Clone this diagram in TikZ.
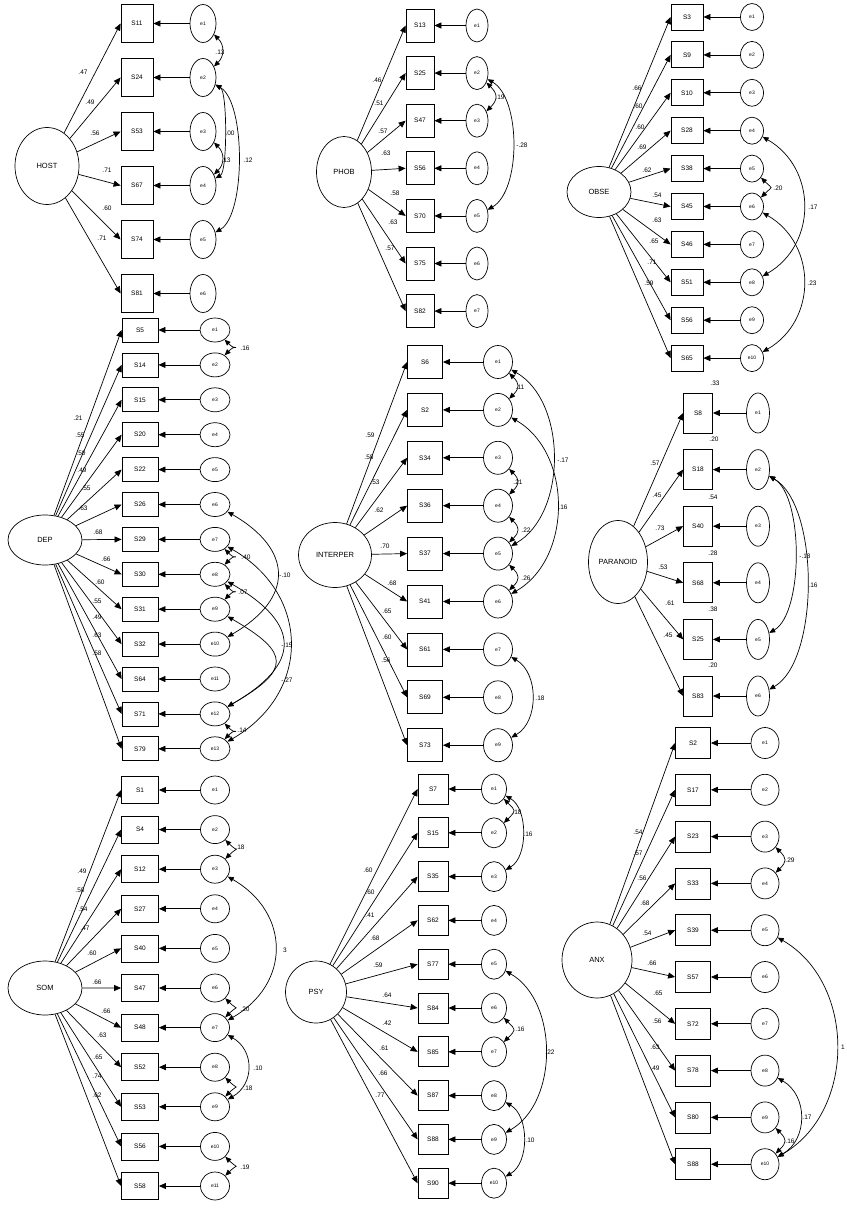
\documentclass[tikz,border=0pt]{standalone}
\usepackage{fontspec}
\setmainfont{Liberation Sans}
\usetikzlibrary{arrows.meta,shapes.geometric}
\tikzset{
  ind/.style={draw,rectangle,inner sep=0pt,line width=0.8pt,font=\fontsize{6.5}{7}\selectfont},
  err/.style={draw,ellipse,inner sep=0pt,line width=0.7pt,font=\fontsize{5}{6}\selectfont},
  lat/.style={draw,ellipse,inner sep=0pt,line width=0.7pt,font=\fontsize{7.5}{8}\selectfont},
  lbl/.style={inner sep=0pt,font=\fontsize{6.5}{7}\selectfont},
  arr/.style={-{Triangle[length=7pt,width=6pt]},line width=0.7pt},
  cov/.style={{Triangle[length=6pt,width=5pt]}-{Triangle[length=6pt,width=5pt]},line width=0.7pt}
}
\begin{document}
\begin{tikzpicture}[x=1pt,y=-1pt]
\useasboundingbox[fill=white] (0,0) rectangle (846,1209);

% HOST
\node[lat,minimum width=64pt,minimum height=77pt] (host) at (47,166) {HOST};
\foreach \s [count=\i] in {S11,S24,S53,S67,S74,S81} {
  \node[ind,minimum width=32pt,minimum height=38pt] (hostS\i) at (137,{23.5+54*(\i-1)}) {\s};
  \node[err,minimum width=26pt,minimum height=38pt] (hostE\i) at (203,{23.5+54*(\i-1)}) {e\i};
  \draw[arr] (host) -- (hostS\i.west);
  \draw[arr] (hostE\i) -- (hostS\i);
}
\foreach \v/\x/\y [count=\k] in {.47/83/72,.49/90/102,.56/95/133,.71/107/170,.60/107/208,.71/102/238}
  \node[lbl] (hostL\k) at (\x,\y) {\v};
\foreach \p/\q/\ang/\lp/\v/\x/\y [count=\k] in {1/2/45/1.2/.13/220/52,2/4/30/0.38/.00/230/133,3/4/45/1.2/.13/226/160,2/5/30/0.61/.12/248/160} {
  \draw[cov] (hostE\p) to[out=-\ang,in=\ang,looseness=\lp] (hostE\q);
  \node[lbl] (hostC\k) at (\x,\y) {\v};
}

% PHOB
\node[lat,minimum width=55pt,minimum height=71pt] (phob) at (344,172) {PHOB};
\foreach \s [count=\i] in {S13,S25,S47,S56,S70,S75,S82} {
  \node[ind,minimum width=28pt,minimum height=33pt] (phobS\i) at (420,{25.5+47.6*(\i-1)}) {\s};
  \node[err,minimum width=22pt,minimum height=33pt] (phobE\i) at (477,{25.5+47.6*(\i-1)}) {e\i};
  \draw[arr] (phob) -- (phobS\i.west);
  \draw[arr] (phobE\i) -- (phobS\i);
}
\foreach \v/\x/\y [count=\k] in {.46/377/80,.51/379/103,.57/383/131,.63/386/153,.58/395/193,.63/393/222,.57/390/248}
  \node[lbl] (phobL\k) at (\x,\y) {\v};
\foreach \p/\q/\ang/\lp/\v/\x/\y [count=\k] in {2/3/45/1.45/.19/500/97,2/5/30/0.76/-.28/522/145} {
  \draw[cov] (phobE\p) to[out=-\ang,in=\ang,looseness=\lp] (phobE\q);
  \node[lbl] (phobC\k) at (\x,\y) {\v};
}

% OBSE
\node[lat,minimum width=64pt,minimum height=51pt] (obse) at (599,192) {OBSE};
\foreach \s [count=\i] in {S3,S9,S10,S28,S38,S45,S46,S51,S56,S65} {
  \node[ind,minimum width=32pt,minimum height=26pt] (obseS\i) at (687,{17+37.9*(\i-1)}) {\s};
  \node[err,minimum width=23pt,minimum height=27pt] (obseE\i) at (752,{17+37.9*(\i-1)}) {e\i};
  \draw[arr] (obse) -- (obseS\i.west);
  \draw[arr] (obseE\i) -- (obseS\i);
}
\foreach \v/\x/\y [count=\k] in {.66/637/88,.60/638/106,.60/640/127,.69/642/147,.62/647/170,.54/657/195,.63/657/220,.65/654/241,.71/652/262,.59/649/283}
  \node[lbl] (obseL\k) at (\x,\y) {\v};
\foreach \p/\q/\ang/\lp/\v/\x/\y [count=\k] in {5/6/45/2.2/.20/778/188,4/8/30/1.16/.17/813/207,6/10/30/1.16/.23/812/283} {
  \draw[cov] (obseE\p) to[out=-\ang,in=\ang,looseness=\lp] (obseE\q);
  \node[lbl] (obseC\k) at (\x,\y) {\v};
}

% DEP
\node[lat,minimum width=74pt,minimum height=50pt] (dep) at (45,540) {DEP};
\foreach \s [count=\i] in {S5,S14,S15,S20,S22,S26,S29,S30,S31,S32,S64,S71,S79} {
  \node[ind,minimum width=36pt,minimum height=24pt] (depS\i) at (140,{330+34.9*(\i-1)}) {\s};
  \node[err,minimum width=30pt,minimum height=24pt] (depE\i) at (215,{330+34.9*(\i-1)}) {e\i};
  \draw[arr] (dep) -- (depS\i.west);
  \draw[arr] (depE\i) -- (depS\i);
}
\foreach \v/\x/\y [count=\k] in {.21/78/418,.55/80/435,.50/81/453,.49/82/470,.55/86/488,.63/83/508,.68/98/532,.66/106/559,.60/100/582,.55/97/601,.49/97/617,.63/97/635,.58/97/653}
  \node[lbl] (depL\k) at (\x,\y) {\v};
\foreach \p/\q/\ang/\lp/\v/\x/\y [count=\k] in {1/2/45/3.2/.16/245/348,7/8/45/3.2/.40/246/557,8/9/45/3.2/.07/243/592,12/13/45/3.2/.14/242/730,6/10/30/1.57/-.10/285/575,8/12/30/1.75/-.15/287/645,9/12/30/2.08/-.27/287/680} {
  \draw[cov] (depE\p) to[out=-\ang,in=\ang,looseness=\lp] (depE\q);
  \node[lbl] (depC\k) at (\x,\y) {\v};
}
\draw[cov] (depE7) to[out=-30,in=30,looseness=1.27] (depE13);

% INTERPER
\node[lat,minimum width=73pt,minimum height=65pt] (inter) at (335,555) {INTERPER};
\foreach \s [count=\i] in {S6,S2,S34,S36,S37,S41,S61,S69,S73} {
  \node[ind,minimum width=35pt,minimum height=33pt] (interS\i) at (425,{362+47.9*(\i-1)}) {\s};
  \node[err,minimum width=29pt,minimum height=33pt] (interE\i) at (498,{362+47.9*(\i-1)}) {e\i};
  \draw[arr] (inter) -- (interS\i.west);
  \draw[arr] (interE\i) -- (interS\i);
}
\foreach \v/\x/\y [count=\k] in {.59/370/435,.58/369/457,.53/375/482,.62/379/510,.70/385/546,.68/392/583,.65/387/611,.60/387/637,.56/386/660}
  \node[lbl] (interL\k) at (\x,\y) {\v};
\foreach \p/\q/\ang/\lp/\v/\x/\y [count=\k] in {1/2/45/1.5/.11/520/387,3/4/45/1.5/.21/518/482,4/5/45/1.5/.22/526/530,5/6/45/1.5/.26/526/578,1/5/30/0.94/-.17/563/460,2/6/30/1.03/.16/563/507,7/9/30/1.02/.18/540/698} {
  \draw[cov] (interE\p) to[out=-\ang,in=\ang,looseness=\lp] (interE\q);
  \node[lbl] (interC\k) at (\x,\y) {\v};
}

% PARANOID
\node[lat,minimum width=59pt,minimum height=83pt] (para) at (618,562) {PARANOID};
\foreach \s [count=\i] in {S8,S18,S40,S68,S25,S83} {
  \node[ind,minimum width=29pt,minimum height=40pt] (paraS\i) at (698,{413+56.6*(\i-1)}) {\s};
  \node[err,minimum width=23pt,minimum height=40pt] (paraE\i) at (758,{413+56.6*(\i-1)}) {e\i};
  \draw[arr] (para) -- (paraS\i.west);
  \draw[arr] (paraE\i) -- (paraS\i);
}
\foreach \v/\x/\y [count=\k] in {.57/655/463,.45/657/495,.73/660/528,.53/663/567,.61/670/603,.45/668/635}
  \node[lbl] (paraL\k) at (\x,\y) {\v};
\foreach \v/\x/\y [count=\k] in {.33/715/383,.20/714/439,.54/713/497,.28/713/553,.38/713/609,.20/713/665}
  \node[lbl] (paraR\k) at (\x,\y) {\v};
\foreach \p/\q/\ang/\lp/\v/\x/\y [count=\k] in {2/5/30/0.65/-.18/805/556,2/6/30/0.70/.16/813/585} {
  \draw[cov] (paraE\p) to[out=-\ang,in=\ang,looseness=\lp] (paraE\q);
  \node[lbl] (paraC\k) at (\x,\y) {\v};
}

% SOM
\node[lat,minimum width=74pt,minimum height=54pt] (som) at (45,988) {SOM};
\foreach \s [count=\i] in {S1,S4,S12,S27,S40,S47,S48,S52,S53,S56,S58} {
  \node[ind,minimum width=37pt,minimum height=27pt] (somS\i) at (140,{790+39.6*(\i-1)}) {\s};
  \node[err,minimum width=29pt,minimum height=28pt] (somE\i) at (215,{790+39.6*(\i-1)}) {e\i};
  \draw[arr] (som) -- (somS\i.west);
  \draw[arr] (somE\i) -- (somS\i);
}
\foreach \v/\x/\y [count=\k] in {.49/82/871,.50/80/890,.54/83/909,.47/85/928,.60/92/953,.66/97/982,.66/106/1011,.63/102/1035,.65/98/1057,.74/97/1076,.62/97/1095}
  \node[lbl] (somL\k) at (\x,\y) {\v};
\foreach \p/\q/\ang/\lp/\v/\x/\y [count=\k] in {2/3/45/2.5/.18/240/847,6/7/45/2.5/.20/245/1009,8/9/45/2.5/.18/248/1088,10/11/45/2.5/.19/245/1167,3/7/30/1.30/3/285/950,7/9/30/1.23/.10/258/1068} {
  \draw[cov] (somE\p) to[out=-\ang,in=\ang,looseness=\lp] (somE\q);
  \node[lbl] (somC\k) at (\x,\y) {\v};
}

% PSY
\node[lat,minimum width=61pt,minimum height=62pt] (psy) at (316,992) {PSY};
\foreach \s [count=\i] in {S7,S15,S35,S62,S77,S84,S85,S87,S88,S90} {
  \node[ind,minimum width=30pt,minimum height=30pt] (psyS\i) at (433,{789+43.8*(\i-1)}) {\s};
  \node[err,minimum width=25pt,minimum height=30pt] (psyE\i) at (494,{789+43.8*(\i-1)}) {e\i};
  \draw[arr] (psy) -- (psyS\i.west);
  \draw[arr] (psyE\i) -- (psyS\i);
}
\foreach \v/\x/\y [count=\k] in {.60/368/870,.60/370/892,.41/370/915,.68/375/938,.59/378/965,.64/387/995,.42/387/1023,.61/384/1048,.66/383/1073,.77/380/1095}
  \node[lbl] (psyL\k) at (\x,\y) {\v};
\foreach \p/\q/\ang/\lp/\v/\x/\y [count=\k] in {1/2/45/1.85/.18/517/812,6/7/45/1.85/.16/520/1029,1/3/30/0.9/.16/528/834,5/9/30/0.97/.22/550/1052,8/10/30/0.95/.10/530/1140} {
  \draw[cov] (psyE\p) to[out=-\ang,in=\ang,looseness=\lp] (psyE\q);
  \node[lbl] (psyC\k) at (\x,\y) {\v};
}

% ANX
\node[lat,minimum width=70pt,minimum height=76pt] (anx) at (597,960) {ANX};
\foreach \s [count=\i] in {S2,S17,S23,S33,S39,S57,S72,S78,S80,S88} {
  \node[ind,minimum width=35pt,minimum height=31pt] (anxS\i) at (693,{743+46.8*(\i-1)}) {\s};
  \node[err,minimum width=28pt,minimum height=31pt] (anxE\i) at (765,{743+46.8*(\i-1)}) {e\i};
  \draw[arr] (anx) -- (anxS\i.west);
  \draw[arr] (anxE\i) -- (anxS\i);
}
\foreach \v/\x/\y [count=\k] in {.54/638/832,.57/638/853,.56/642/878,.68/645/903,.54/647/933,.66/652/963,.65/658/993,.56/657/1021,.63/655/1047,.49/655/1068}
  \node[lbl] (anxL\k) at (\x,\y) {\v};
\foreach \p/\q/\ang/\lp/\v/\x/\y [count=\k] in {3/4/45/1.6/.29/790/860,9/10/45/1.6/.16/790/1141,5/10/30/1.06/1/843/1047,8/10/30/1.14/.17/807/1117} {
  \draw[cov] (anxE\p) to[out=-\ang,in=\ang,looseness=\lp] (anxE\q);
  \node[lbl] (anxC\k) at (\x,\y) {\v};
}
\end{tikzpicture}
\end{document}
